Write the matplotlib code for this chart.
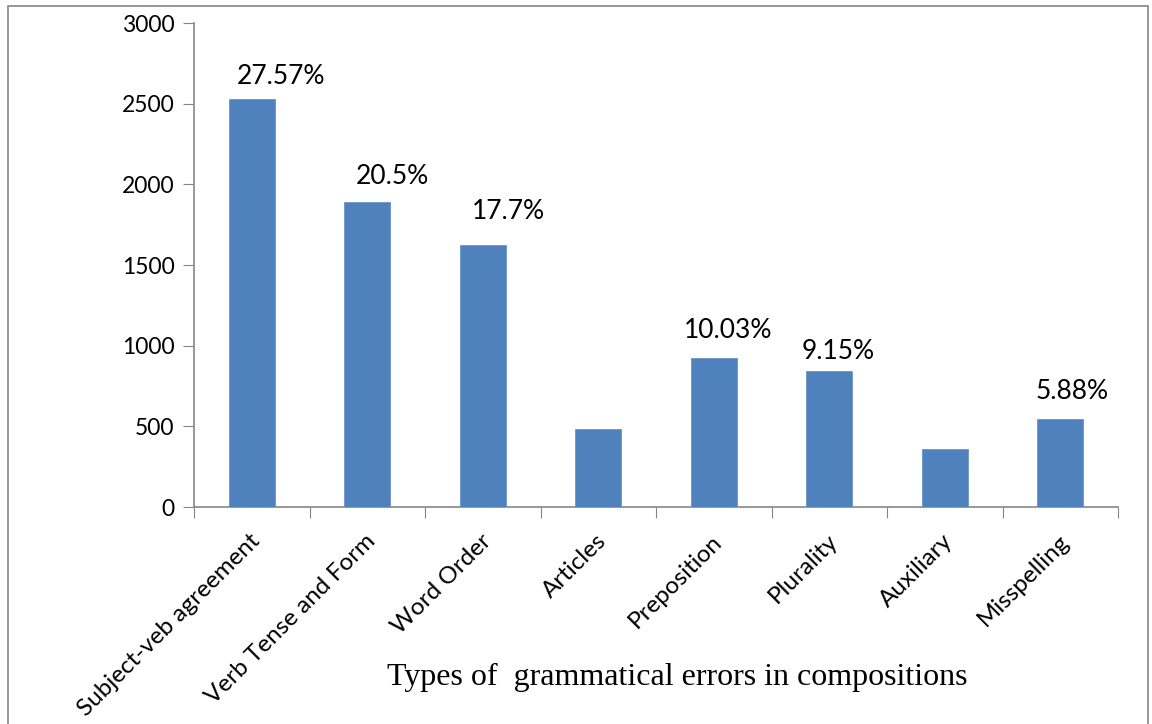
import matplotlib
matplotlib.use("Agg")
import matplotlib.pyplot as plt
from matplotlib.patches import Rectangle
import numpy as np

categories = ["Subject-veb agreement", "Verb Tense and Form", "Word Order", "Articles",
              "Preposition", "Plurality", "Auxiliary", "Misspelling"]
counts = [2531, 1890, 1622, 483, 924, 843, 358, 545]
pct_labels = ["27.57%", "20.5%", "17.7%", "", "10.03%", "9.15%", "", "5.88%"]
yticks = [0, 500, 1000, 1500, 2000, 2500, 3000]
xlabel = "Types of  grammatical errors in compositions"

# label offsets in pixels (style only)
label_offsets = [(29, 22), (25, 26), (26, 34), (0, 0), (14, 27), (9, 19), (0, 0), (12, 28)]

fig = plt.figure(figsize=(11.52, 7.24), dpi=100)
ax = fig.add_axes([194/1152, 1-507/724, (1118-194)/1152, (507-23)/724])

x = np.arange(len(categories))
bars = ax.bar(x, counts, width=0.4, color="#4F81BD", edgecolor="#6A95C9", linewidth=0.6, zorder=3)

ax.set_xlim(-0.5, len(categories) - 0.5)
ax.set_ylim(0, 3000)
ax.set_yticks(yticks)
ax.set_yticklabels([str(v) for v in yticks], fontsize=16.5, family="Lato")

ax.set_xticks(np.arange(len(categories) + 1) - 0.5, minor=False)
ax.set_xticklabels([])
ax.set_xticks(x, minor=True)
ax.tick_params(axis="x", which="major", length=8, color="#868686", direction="out")
ax.tick_params(axis="x", which="minor", length=0)
ax.tick_params(axis="y", length=8, color="#868686", direction="out", pad=6)

for s in ["top", "right"]:
    ax.spines[s].set_visible(False)
for s in ["left", "bottom"]:
    ax.spines[s].set_color("#868686")
    ax.spines[s].set_linewidth(1.2)

# rotated category labels
for xi, lab in zip(x, categories):
    ax.annotate(lab, xy=(xi, 0), xycoords=("data", "axes fraction"),
                xytext=(5, -31), textcoords="offset pixels",
                rotation=45, rotation_mode="anchor", ha="right", va="center",
                fontsize=17.5, family="Lato")

for b, lab, (dx, dy) in zip(bars, pct_labels, label_offsets):
    if not lab:
        continue
    ax.annotate(lab, xy=(b.get_x() + b.get_width()/2, b.get_height()),
                xytext=(dx, dy), textcoords="offset pixels",
                ha="center", va="center", fontsize=19, family="Lato")

fig.text(677/1152, 1-677/724, xlabel, ha="center", va="center",
         fontsize=23, family="Liberation Serif")

# outer frame
fig.patches.append(Rectangle((8/1152, -0.05), (1148-8)/1152, 1.05 - 6/724,
                             transform=fig.transFigure, fill=False,
                             edgecolor="#868686", linewidth=1.2))

fig.savefig("out.png", dpi=100)
